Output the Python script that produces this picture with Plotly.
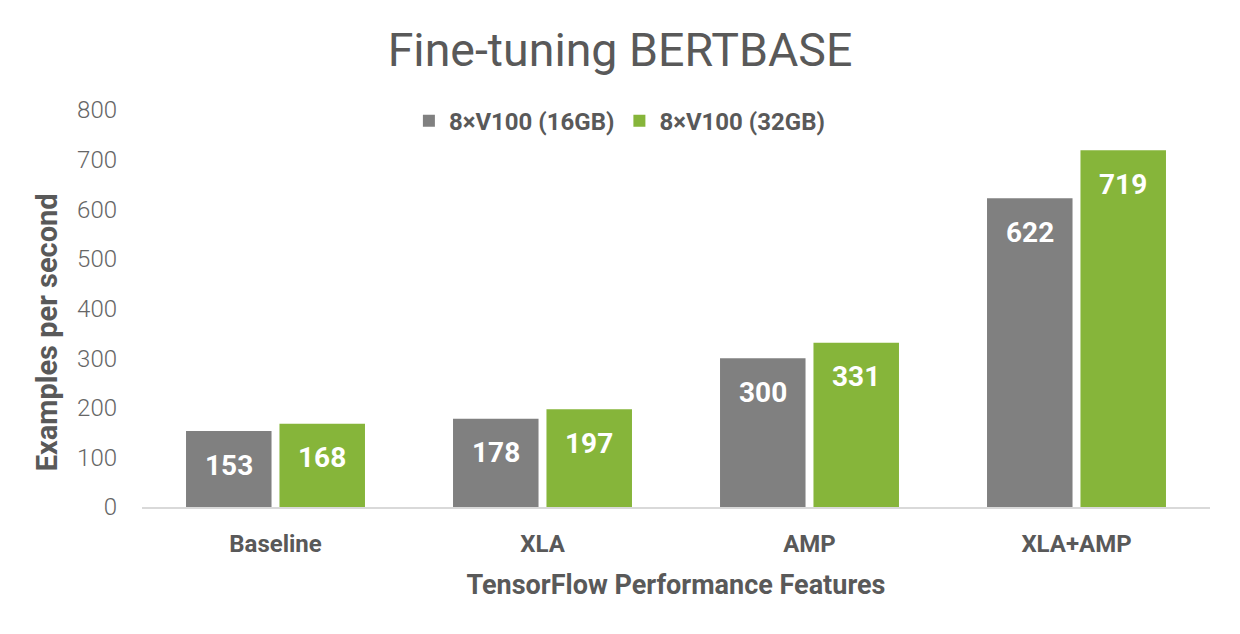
import plotly.graph_objects as go

categories = ["Baseline", "XLA", "AMP", "XLA+AMP"]
series_names = ["8×V100 (16GB)", "8×V100 (32GB)"]
v16 = [153, 178, 300, 622]
v32 = [168, 197, 331, 719]
colors = ["#808080", "#86B53A"]
y_ticks = [0, 100, 200, 300, 400, 500, 600, 700, 800]

FONT = "Roboto"
W, H = 1240, 634
ML, MR, MT, MB = 142, 30, 110, 127
BARGAP = 0.3

fig = go.Figure()
for name, vals, col in zip(series_names, [v16, v32], colors):
    fig.add_trace(go.Bar(
        x=categories, y=vals, name=name, marker=dict(color=col, line=dict(width=0)),
    ))

# value labels placed inside the top of each bar
plot_w = W - ML - MR
cat_w = plot_w / len(categories)
slot_w = cat_w * (1 - BARGAP) / len(series_names)
for i, vals in enumerate([v16, v32]):
    offset = (i - (len(series_names) - 1) / 2) * slot_w
    for c, v in zip(categories, vals):
        fig.add_annotation(
            x=c, y=v, xref="x", yref="y", text=str(v), showarrow=False,
            xshift=offset, yshift=-34, yanchor="middle",
            font=dict(family=FONT, size=28, color="white", weight="bold"),
        )

# y-axis title (placed slightly below the plot's centre, as in the original)
fig.add_annotation(
    text="Examples per second", textangle=-90, showarrow=False,
    xref="paper", yref="paper", x=-0.089, y=0.44, xanchor="center", yanchor="middle",
    font=dict(family=FONT, size=29, color="#595959", weight="bold"),
)

fig.update_layout(
    width=W, height=H,
    margin=dict(l=ML, r=MR, t=MT, b=MB),
    paper_bgcolor="white", plot_bgcolor="white",
    barmode="group", bargap=BARGAP, bargroupgap=0.085,
    title=dict(text="Fine-tuning BERTBASE", x=0.5, xanchor="center", y=0.922, yanchor="middle",
               font=dict(family=FONT, size=46.5, color="#595959")),
    legend=dict(orientation="h", x=0.447, xanchor="center", y=0.972, yanchor="middle",
                font=dict(family=FONT, size=24, color="#595959", weight="bold"),
                itemwidth=30, traceorder="normal", bgcolor="rgba(0,0,0,0)"),
    font=dict(family=FONT, color="#595959"),
)
fig.update_xaxes(
    showline=True, linecolor="#D9D9D9", linewidth=2, showgrid=False, ticks="",
    ticklabelstandoff=14,
    tickfont=dict(family=FONT, size=24, color="#595959", weight="bold"),
    title=dict(text="TensorFlow Performance Features", standoff=18,
               font=dict(family=FONT, size=27, color="#595959", weight="bold")),
)
fig.update_yaxes(
    range=[0, 800], tickvals=y_ticks, showgrid=False, zeroline=False, showline=False,
    ticks="", ticklabelstandoff=24,
    tickfont=dict(family=FONT, size=24, color="#666666", weight=300),
)
fig.write_html("out.html")
